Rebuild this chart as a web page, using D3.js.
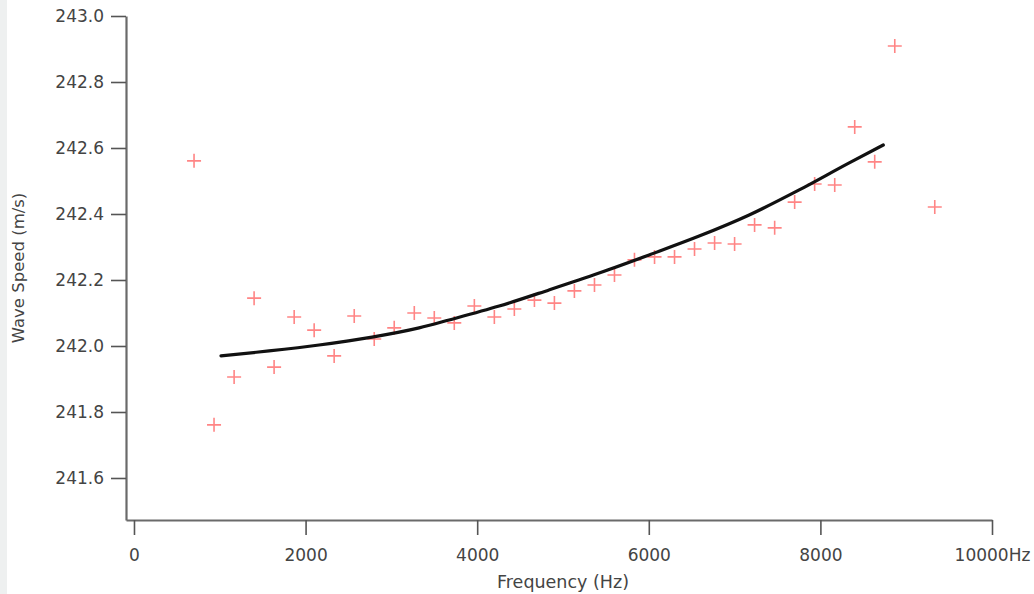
<!DOCTYPE html>
<html>
<head>
<meta charset="utf-8">
<script src="https://cdn.jsdelivr.net/npm/d3@7"></script>
<style>
  body { margin: 0; background: #fff; }
  text { font-family: "DejaVu Sans", Verdana, sans-serif; }
</style>
</head>
<body>
<svg width="1034" height="594"></svg>
<script>
const svg = d3.select("svg");

// measured points (Hz, m/s)
const freqs = [700, 933, 1167, 1400, 1633, 1867, 2100, 2333, 2567, 2800, 3033, 3267, 3500,
  3733, 3967, 4200, 4433, 4667, 4900, 5133, 5367, 5600, 5833, 6067, 6300, 6533, 6767,
  7000, 7233, 7467, 7700, 7933, 8167, 8400, 8633, 8867, 9333];
const speeds = [242.561, 241.761, 241.906, 242.145, 241.936, 242.088, 242.048, 241.970,
  242.091, 242.021, 242.055, 242.100, 242.085, 242.070, 242.121, 242.088, 242.112,
  242.139, 242.130, 242.167, 242.185, 242.215, 242.261, 242.270, 242.270, 242.294,
  242.312, 242.309, 242.367, 242.358, 242.436, 242.491, 242.488, 242.664, 242.558,
  242.909, 242.421];

// fitted curve
const fitFreqs = [1014, 1574, 2157, 2775, 3323, 3673, 4256, 4838, 5421, 6004, 6587, 7170, 7753, 8336, 8733];
const fitSpeeds = [241.970, 241.985, 242.003, 242.027, 242.055, 242.079, 242.121, 242.170,
  242.221, 242.276, 242.333, 242.397, 242.473, 242.555, 242.609];

const xTicks = [0, 2000, 4000, 6000, 8000, 10000];
const yTicks = [241.6, 241.8, 242.0, 242.2, 242.4, 242.6, 242.8, 243.0];

const x = d3.scaleLinear().domain([-93, 10000]).range([126, 992]);
const y = d3.scaleLinear().domain([241.4727, 243.0]).range([520, 16]);

// faint strip on the left edge
svg.append("rect").attr("x", 0).attr("y", 0).attr("width", 7).attr("height", 594).attr("fill", "#eef0f0");

// axes
const yAxis = svg.append("g")
  .attr("transform", "translate(126,0)")
  .call(d3.axisLeft(y).tickValues(yTicks).tickSize(15).tickSizeOuter(0).tickPadding(7)
    .tickFormat(d3.format(".1f")));

const xAxis = svg.append("g")
  .attr("transform", "translate(0,520)")
  .call(d3.axisBottom(x).tickValues(xTicks).tickSize(15).tickSizeOuter(0).tickPadding(14)
    .tickFormat(d => d === 10000 ? "10000Hz" : d));

[yAxis, xAxis].forEach(g => {
  g.select(".domain").attr("stroke", "#6a6a6a").attr("stroke-width", 2.2);
  g.selectAll(".tick line").attr("stroke", "#555").attr("stroke-width", 1.6);
  g.selectAll(".tick text")
    .attr("fill", "#444")
    .attr("font-size", 17)
    .attr("font-family", "DejaVu Sans, Verdana, sans-serif");
});

// axis titles
svg.append("text")
  .attr("transform", "translate(24,268) rotate(-90)")
  .attr("text-anchor", "middle")
  .attr("font-size", 16.5)
  .attr("fill", "#444")
  .text("Wave Speed (m/s)");

svg.append("text")
  .attr("x", 563)
  .attr("y", 588)
  .attr("text-anchor", "middle")
  .attr("font-size", 17.5)
  .attr("fill", "#444")
  .text("Frequency (Hz)");

// data crosses
svg.append("g")
  .selectAll("path")
  .data(freqs.map((f, i) => [f, speeds[i]]))
  .join("path")
  .attr("transform", d => `translate(${x(d[0])},${y(d[1])})`)
  .attr("d", "M-7,0H7M0,-7V7")
  .attr("stroke", "#ff7070")
  .attr("stroke-opacity", 0.85)
  .attr("stroke-width", 1.6)
  .attr("fill", "none");

// fit line
const line = d3.line()
  .x(d => x(d[0]))
  .y(d => y(d[1]))
  .curve(d3.curveMonotoneX);

svg.append("path")
  .datum(fitFreqs.map((f, i) => [f, fitSpeeds[i]]))
  .attr("d", line)
  .attr("fill", "none")
  .attr("stroke", "#111")
  .attr("stroke-width", 3.2)
  .attr("stroke-linecap", "round");
</script>
</body>
</html>
